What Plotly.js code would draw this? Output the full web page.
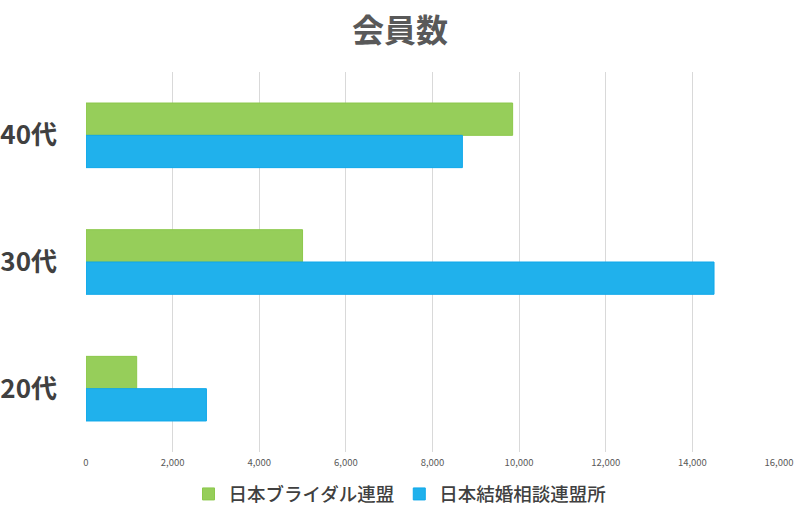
<!DOCTYPE html>
<html>
<head>
<meta charset="utf-8">
<script src="https://cdn.plot.ly/plotly-3.0.1.min.js"></script>
<style>
  html, body { margin: 0; padding: 0; background: #fff; }
  #chart { width: 800px; height: 515px; }
</style>
</head>
<body>
<div id="chart"></div>
<script>
const ages = ["40代", "30代", "20代"];
const bridal = [9850, 5000, 1170];
const kekkon = [8690, 14500, 2780];
const xTicks = [0, 2000, 4000, 6000, 8000, 10000, 12000, 14000, 16000];

const jp = "Noto Sans CJK JP, Noto Sans, sans-serif";

function bartrace(vals, name, fill, edge) {
  return {
    type: "bar",
    orientation: "h",
    name: name,
    x: vals,
    y: ages,
    marker: { color: fill, line: { color: edge, width: 1 } },
    hoverinfo: "x+name",
  };
}

const traces = [
  bartrace(bridal, "日本ブライダル連盟", "#96ce5a", "#8cc84b"),
  bartrace(kekkon, "日本結婚相談連盟所", "#20b1ec", "#0fa8ea"),
];

const layout = {
  width: 800,
  height: 515,
  paper_bgcolor: "#fff",
  plot_bgcolor: "#fff",
  font: { family: jp, color: "#595959" },
  title: {
    text: "会員数",
    font: { family: jp, size: 32, weight: "bold", color: "#595959" },
    x: 0.5,
    xanchor: "center",
    yref: "container",
    y: 0.94,
    yanchor: "middle",
  },
  barmode: "group",
  bargap: 0.49,
  bargroupgap: 0,
  margin: { l: 86, r: 21, t: 72, b: 63, autoexpand: false },
  xaxis: {
    range: [0, 16000],
    tickvals: xTicks,
    tickformat: ",d",
    tickfont: { size: 9.5, color: "#595959" },
    ticklabelstandoff: 3,
    showgrid: true,
    gridcolor: "#d9d9d9",
    gridwidth: 1,
    zeroline: false,
    showline: false,
    ticks: "",
    fixedrange: true,
  },
  yaxis: {
    type: "category",
    categoryorder: "array",
    categoryarray: ages,
    autorange: "reversed",
    tickfont: { family: jp, size: 26, weight: "bold", color: "#404040" },
    ticklabelstandoff: 28,
    showgrid: false,
    zeroline: false,
    showline: false,
    ticks: "",
    fixedrange: true,
  },
  showlegend: true,
  legend: {
    orientation: "h",
    xref: "container",
    x: 0.5,
    xanchor: "center",
    yref: "container",
    y: 0.04,
    yanchor: "middle",
    font: { family: jp, size: 18.5, weight: 500, color: "#404040" },
    itemwidth: 30,
  },
};

Plotly.newPlot("chart", traces, layout, { displayModeBar: false, staticPlot: true });
</script>
</body>
</html>
